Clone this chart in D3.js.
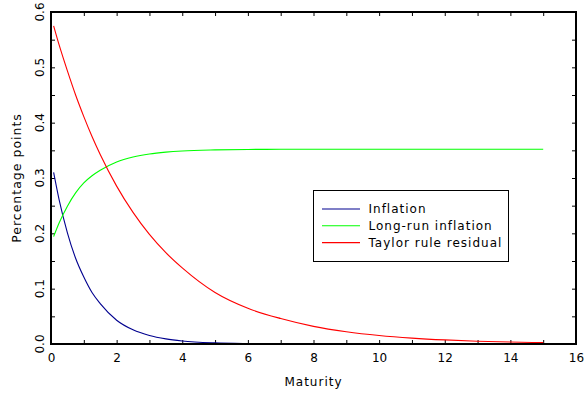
<!DOCTYPE html>
<html>
<head>
<meta charset="utf-8">
<script src="https://cdn.jsdelivr.net/npm/d3@7"></script>
<style>
	body { margin: 0; background: #fff; }
	svg { display: block; font-family: "DejaVu Sans", sans-serif; }
</style>
</head>
<body>
<div id="chartArea"></div>
<script>
// maturities (years) and read-off values, percentage points
var maturity   = [0.08, 0.25, 0.5, 0.75, 1, 1.25, 1.5, 2, 2.5, 3, 3.5, 4, 5, 6, 7, 8, 9, 10, 11, 12, 13, 14, 15];
var inflation  = [0.310, 0.260, 0.201, 0.155, 0.121, 0.093, 0.073, 0.043, 0.0256, 0.0153, 0.0092, 0.0055, 0.0020, 0.0007, 0.0002, 0.0001, 0, 0, 0, 0, 0, 0, 0];
var longRun    = [0.194, 0.219, 0.249, 0.273, 0.291, 0.304, 0.314, 0.329, 0.338, 0.3435, 0.3468, 0.3489, 0.3508, 0.3516, 0.3519, 0.352, 0.352, 0.352, 0.352, 0.352, 0.352, 0.352, 0.352];
var taylor     = [0.575, 0.540, 0.4935, 0.450, 0.411, 0.375, 0.3425, 0.2853, 0.2378, 0.198, 0.165, 0.1375, 0.093, 0.0645, 0.046, 0.0319, 0.0222, 0.0154, 0.0107, 0.0074, 0.0051, 0.0036, 0.0025];

var seriesNames  = ["Inflation", "Long-run inflation", "Taylor rule residual"];
var seriesColors = ["#00008f", "#00ff00", "#ff0000"];

var xTicks = [0, 1, 2, 3, 4, 5, 6, 7, 8, 9, 10, 11, 12, 13, 14, 15, 16];
var yTicks = [0, 0.05, 0.1, 0.15, 0.2, 0.25, 0.3, 0.35, 0.4, 0.45, 0.5, 0.55, 0.6];

var makeChart = function() {

	var W = 587, H = 396;
	var margin = {top: 12, right: 11, bottom: 52, left: 51};

	var svg = d3.select("#chartArea").append("svg")
		.attr("width", W)
		.attr("height", H);

	var x = d3.scaleLinear().domain([0, 16]).range([margin.left, W - margin.right]);
	var y = d3.scaleLinear().domain([0, 0.6]).range([H - margin.bottom, margin.top]);

	// bottom axis, ticks inward
	var gb = svg.append("g")
		.attr("transform", "translate(0," + y(0) + ")")
		.call(d3.axisBottom(x)
			.tickValues(xTicks)
			.tickSize(-4)
			.tickPadding(9)
			.tickFormat(function(d) { return d % 2 === 0 ? d : ""; }));
	// top axis
	var gt = svg.append("g")
		.attr("transform", "translate(0," + y(0.6) + ")")
		.call(d3.axisTop(x).tickValues(xTicks).tickSize(-4).tickFormat(""));
	// left axis, labels drawn rotated below
	var gl = svg.append("g")
		.attr("transform", "translate(" + x(0) + ",0)")
		.call(d3.axisLeft(y).tickValues(yTicks).tickSize(-4).tickFormat(""));
	// right axis
	var gr = svg.append("g")
		.attr("transform", "translate(" + x(16) + ",0)")
		.call(d3.axisRight(y).tickValues(yTicks).tickSize(-4).tickFormat(""));

	[gb, gt, gl, gr].forEach(function(g) {
		g.select(".domain").remove();
		g.selectAll("line").attr("stroke", "#000").attr("stroke-width", 1);
	});
	gb.selectAll("text")
		.attr("font-size", 12)
		.attr("font-family", "DejaVu Sans, sans-serif")
		.attr("fill", "#000");

	svg.append("g")
		.selectAll("text")
		.data(yTicks.filter(function(d, i) { return i % 2 === 0; }))
		.enter().append("text")
		.attr("transform", function(d) { return "translate(40," + y(d) + ") rotate(-90)"; })
		.attr("text-anchor", "middle")
		.attr("dy", "0.35em")
		.attr("font-size", 12)
		.text(function(d) { return d3.format(".1f")(d); });

	// series lines
	var allSeries = [inflation, longRun, taylor];
	var line = d3.line()
		.x(function(d, i) { return x(maturity[i]); })
		.y(function(d) { return y(d); })
		.curve(d3.curveMonotoneX);

	svg.append("g")
		.selectAll("path")
		.data(allSeries)
		.enter().append("path")
		.attr("fill", "none")
		.attr("stroke", function(d, i) { return seriesColors[i]; })
		.attr("stroke-width", 1.1)
		.attr("d", line);

	// frame
	svg.append("rect")
		.attr("x", x(0))
		.attr("y", y(0.6))
		.attr("width", x(16) - x(0))
		.attr("height", y(0) - y(0.6))
		.attr("fill", "none")
		.attr("stroke", "#000")
		.attr("stroke-width", 2);

	// axis titles
	svg.append("text")
		.attr("x", (x(0) + x(16)) / 2)
		.attr("y", 386)
		.attr("text-anchor", "middle")
		.attr("font-size", 12)
		.attr("letter-spacing", 1)
		.text("Maturity");

	svg.append("text")
		.attr("transform", "translate(17," + (y(0) + y(0.6)) / 2 + ") rotate(-90)")
		.attr("text-anchor", "middle")
		.attr("dy", "0.35em")
		.attr("font-size", 12.5)
		.attr("letter-spacing", 1)
		.text("Percentage points");

	// legend
	var lg = svg.append("g").attr("transform", "translate(313.5,190.5)");
	lg.append("rect")
		.attr("width", 195)
		.attr("height", 71)
		.attr("fill", "#fff")
		.attr("stroke", "#000")
		.attr("stroke-width", 1);

	var item = lg.selectAll("g.item")
		.data(seriesNames)
		.enter().append("g")
		.attr("class", "item")
		.attr("transform", function(d, i) { return "translate(0," + (18.5 + i * 16.8) + ")"; });

	item.append("line")
		.attr("x1", 8.5)
		.attr("x2", 46.5)
		.attr("stroke", function(d, i) { return seriesColors[i]; })
		.attr("stroke-width", 1.1);

	item.append("text")
		.attr("x", 55)
		.attr("dy", "0.35em")
		.attr("font-size", 12)
		.attr("letter-spacing", 1)
		.text(function(d) { return d; });
};

makeChart();
</script>
</body>
</html>
